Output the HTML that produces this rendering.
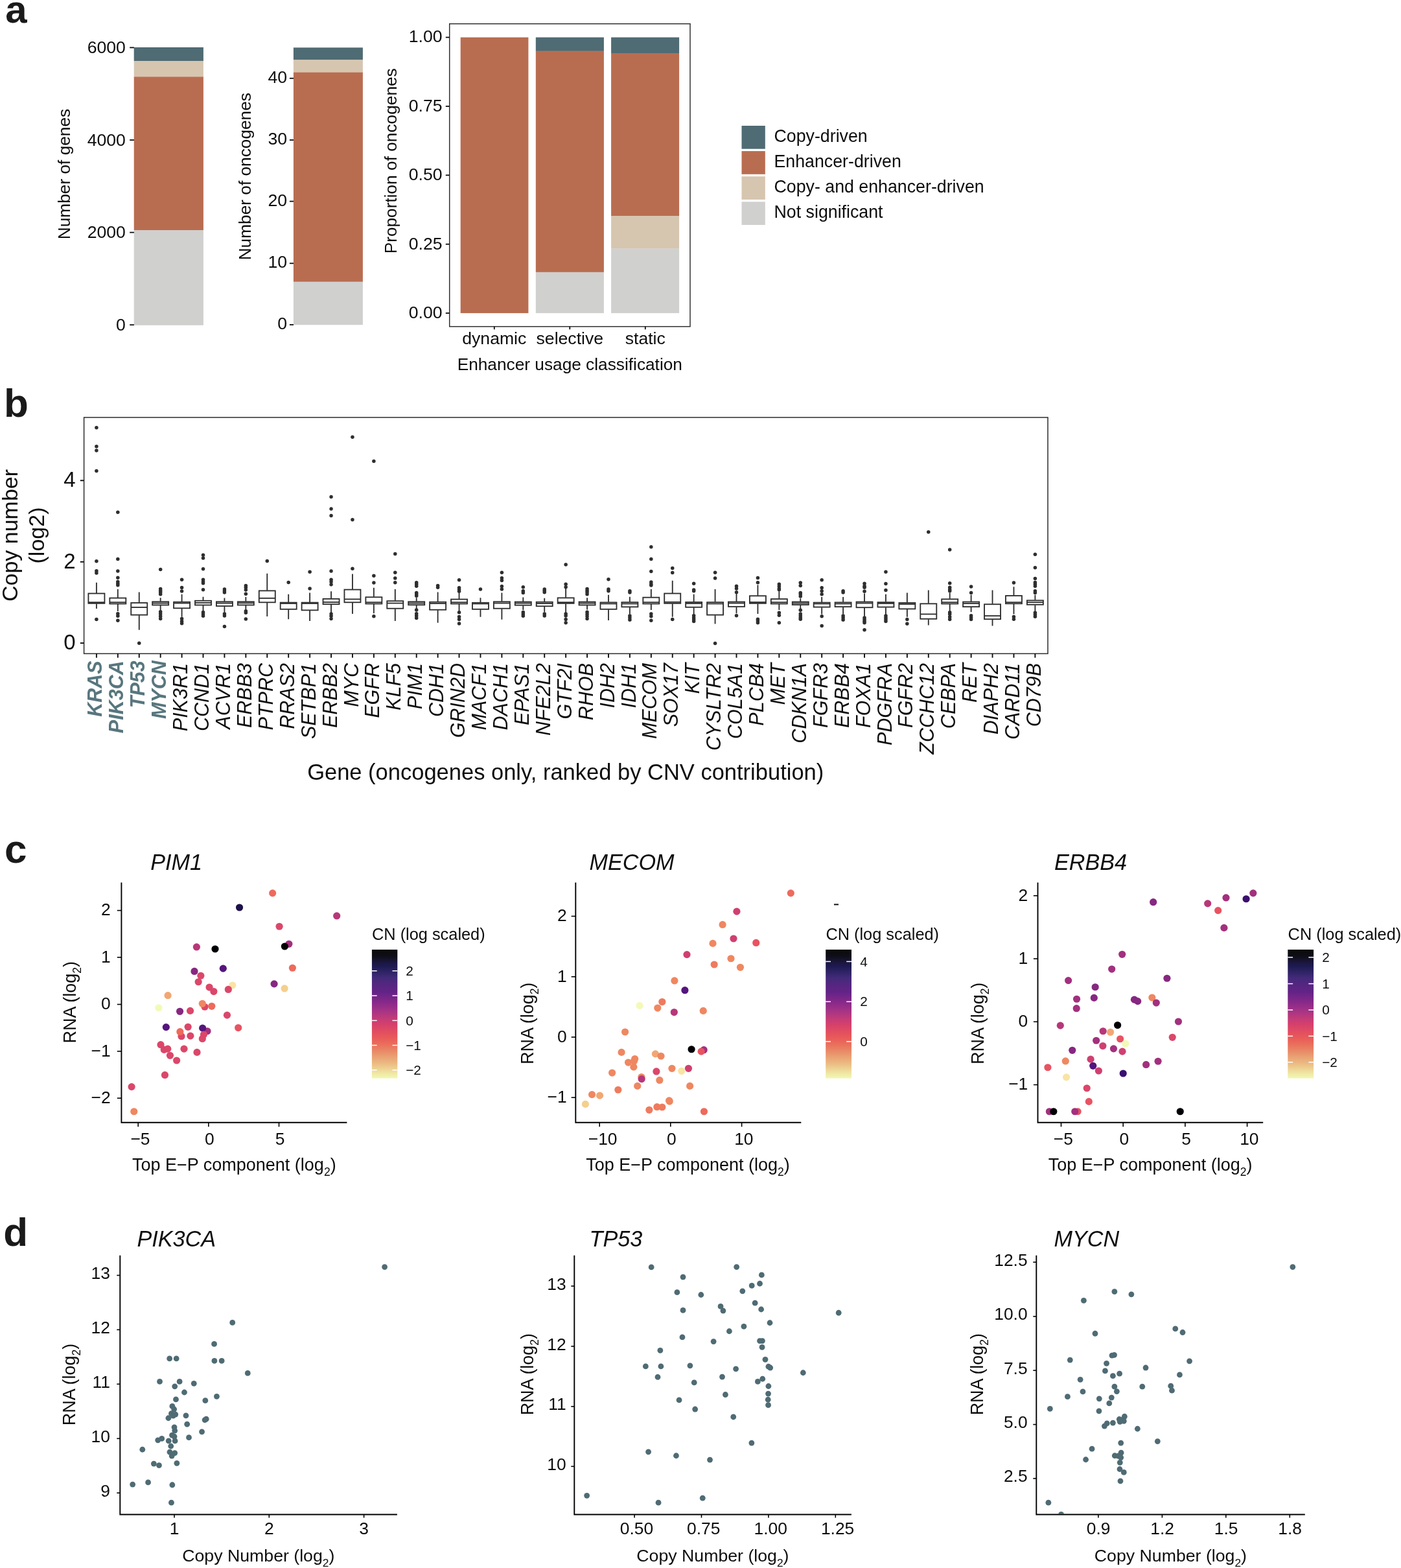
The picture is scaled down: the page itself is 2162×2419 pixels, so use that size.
<!DOCTYPE html>
<html lang="en"><head><meta charset="utf-8"><title>Figure</title>
<style>html,body{margin:0;padding:0;background:#fff}svg{display:block}text{font-family:'Liberation Sans', Arial, Helvetica, sans-serif}</style></head><body>
<svg width="2162" height="2419" viewBox="0 0 2162 2419" role="img" aria-label="Figure: copy number and enhancer contributions to oncogene expression">
<rect width="2162" height="2419" fill="#fff"/>
<g fill="#0d0d0d">
<text x="8.2" y="34.7" font-size="60" font-weight="bold" fill="#1a1a1a">a</text>
<text x="6" y="643" font-size="62" font-weight="bold" fill="#1a1a1a">b</text>
<text x="7" y="1331" font-size="62" font-weight="bold" fill="#1a1a1a">c</text>
<text x="5.2" y="1922" font-size="62" font-weight="bold" fill="#1a1a1a">d</text>
<g id="a1">
<rect x="206.7" y="73" width="107.2" height="21.2" fill="#4f6b74"/>
<rect x="206.7" y="94" width="107.2" height="24.6" fill="#d6c6b0"/>
<rect x="206.7" y="118.4" width="107.2" height="236.8" fill="#b96d50"/>
<rect x="206.7" y="355" width="107.2" height="146.8" fill="#d0d0cf"/>
<line x1="200.2" y1="73.4" x2="206.9" y2="73.4" stroke="#0d0d0d" stroke-width="1.8"/>
<text x="193.8" y="81.92" font-size="26.6" text-anchor="end">6000</text>
<line x1="200.2" y1="216" x2="206.9" y2="216" stroke="#0d0d0d" stroke-width="1.8"/>
<text x="193.8" y="224.52" font-size="26.6" text-anchor="end">4000</text>
<line x1="200.2" y1="358.6" x2="206.9" y2="358.6" stroke="#0d0d0d" stroke-width="1.8"/>
<text x="193.8" y="367.12" font-size="26.6" text-anchor="end">2000</text>
<line x1="200.2" y1="501.2" x2="206.9" y2="501.2" stroke="#0d0d0d" stroke-width="1.8"/>
<text x="193.8" y="509.72" font-size="26.6" text-anchor="end">0</text>
<text x="107.8" y="268.5" font-size="26.25" text-anchor="middle" transform="rotate(-90 107.8 268.5)">Number of genes</text>
</g>
<g id="a2">
<rect x="452.9" y="73.4" width="107" height="19.1" fill="#4f6b74"/>
<rect x="452.9" y="92.3" width="107" height="19.5" fill="#d6c6b0"/>
<rect x="452.9" y="111.6" width="107" height="323.3" fill="#b96d50"/>
<rect x="452.9" y="434.7" width="107" height="66.5" fill="#d0d0cf"/>
<line x1="446.9" y1="120.8" x2="453" y2="120.8" stroke="#0d0d0d" stroke-width="1.8"/>
<text x="443" y="127.82" font-size="26.6" text-anchor="end">40</text>
<line x1="446.9" y1="216" x2="453" y2="216" stroke="#0d0d0d" stroke-width="1.8"/>
<text x="443" y="223.02" font-size="26.6" text-anchor="end">30</text>
<line x1="446.9" y1="310.6" x2="453" y2="310.6" stroke="#0d0d0d" stroke-width="1.8"/>
<text x="443" y="317.62" font-size="26.6" text-anchor="end">20</text>
<line x1="446.9" y1="406.3" x2="453" y2="406.3" stroke="#0d0d0d" stroke-width="1.8"/>
<text x="443" y="413.32" font-size="26.6" text-anchor="end">10</text>
<line x1="446.9" y1="501" x2="453" y2="501" stroke="#0d0d0d" stroke-width="1.8"/>
<text x="443" y="508.02" font-size="26.6" text-anchor="end">0</text>
<text x="387.5" y="272.2" font-size="26.25" text-anchor="middle" transform="rotate(-90 387.5 272.2)">Number of oncogenes</text>
</g>
<g id="a3">
<rect x="693.7" y="36.7" width="371.3" height="467.1" fill="none" stroke="#2b2b2b" stroke-width="1.45"/>
<rect x="710.7" y="57.6" width="104.7" height="425.5" fill="#b96d50"/>
<rect x="826.8" y="57.6" width="105.1" height="21.3" fill="#4f6b74"/>
<rect x="826.8" y="78.7" width="105.1" height="341.3" fill="#b96d50"/>
<rect x="826.8" y="419.8" width="105.1" height="63.3" fill="#d0d0cf"/>
<rect x="943.1" y="57.6" width="105" height="25.2" fill="#4f6b74"/>
<rect x="943.1" y="82.6" width="105" height="250.6" fill="#b96d50"/>
<rect x="943.1" y="333" width="105" height="50.7" fill="#d6c6b0"/>
<rect x="943.1" y="383.5" width="105" height="99.6" fill="#d0d0cf"/>
<line x1="687.8" y1="57.6" x2="693.7" y2="57.6" stroke="#0d0d0d" stroke-width="1.8"/>
<text x="682.6" y="65.42" font-size="26.6" text-anchor="end">1.00</text>
<line x1="687.8" y1="164" x2="693.7" y2="164" stroke="#0d0d0d" stroke-width="1.8"/>
<text x="682.6" y="171.82" font-size="26.6" text-anchor="end">0.75</text>
<line x1="687.8" y1="270.3" x2="693.7" y2="270.3" stroke="#0d0d0d" stroke-width="1.8"/>
<text x="682.6" y="278.12" font-size="26.6" text-anchor="end">0.50</text>
<line x1="687.8" y1="376.7" x2="693.7" y2="376.7" stroke="#0d0d0d" stroke-width="1.8"/>
<text x="682.6" y="384.52" font-size="26.6" text-anchor="end">0.25</text>
<line x1="687.8" y1="483.1" x2="693.7" y2="483.1" stroke="#0d0d0d" stroke-width="1.8"/>
<text x="682.6" y="490.92" font-size="26.6" text-anchor="end">0.00</text>
<line x1="762.8" y1="503.8" x2="762.8" y2="508.2" stroke="#0d0d0d" stroke-width="1.8"/>
<text x="762.8" y="531.2" font-size="26.6" text-anchor="middle">dynamic</text>
<line x1="879.3" y1="503.8" x2="879.3" y2="508.2" stroke="#0d0d0d" stroke-width="1.8"/>
<text x="879.3" y="531.2" font-size="26.6" text-anchor="middle">selective</text>
<line x1="995.8" y1="503.8" x2="995.8" y2="508.2" stroke="#0d0d0d" stroke-width="1.8"/>
<text x="995.8" y="531.2" font-size="26.6" text-anchor="middle">static</text>
<text x="879.3" y="571.3" font-size="26.25" text-anchor="middle">Enhancer usage classification</text>
<text x="612" y="248.3" font-size="26.25" text-anchor="middle" transform="rotate(-90 612 248.3)">Proportion of oncogenes</text>
</g>
<g id="alegend">
<rect x="1144.5" y="194" width="36.3" height="35.7" fill="#4f6b74"/>
<text x="1194.5" y="219.3" font-size="26.75">Copy-driven</text>
<rect x="1144.5" y="233.1" width="36.3" height="35.7" fill="#b96d50"/>
<text x="1194.5" y="258.35" font-size="26.75">Enhancer-driven</text>
<rect x="1144.5" y="272.2" width="36.3" height="35.7" fill="#d6c6b0"/>
<text x="1194.5" y="297.4" font-size="26.75">Copy- and enhancer-driven</text>
<rect x="1144.5" y="311.3" width="36.3" height="35.7" fill="#d0d0cf"/>
<text x="1194.5" y="336.45" font-size="26.75">Not significant</text>
</g>
<g id="b">
<g fill="#2e2e2e">
<circle cx="148.9" cy="865.71" r="2.75"/>
<circle cx="148.9" cy="880.66" r="2.75"/>
<circle cx="148.9" cy="883.96" r="2.75"/>
<circle cx="148.9" cy="955.38" r="2.75"/>
<circle cx="148.9" cy="659.8" r="2.75"/>
<circle cx="148.9" cy="688.8" r="2.75"/>
<circle cx="148.9" cy="694.9" r="2.75"/>
<circle cx="148.9" cy="726.6" r="2.75"/>
<circle cx="181.82" cy="862.42" r="2.75"/>
<circle cx="181.82" cy="881.1" r="2.75"/>
<circle cx="181.82" cy="891.21" r="2.75"/>
<circle cx="181.82" cy="897.58" r="2.75"/>
<circle cx="181.82" cy="900.22" r="2.75"/>
<circle cx="181.82" cy="902.86" r="2.75"/>
<circle cx="181.82" cy="946.81" r="2.75"/>
<circle cx="181.82" cy="950.33" r="2.75"/>
<circle cx="181.82" cy="957.36" r="2.75"/>
<circle cx="181.82" cy="790.3" r="2.75"/>
<circle cx="214.74" cy="992.31" r="2.75"/>
<circle cx="247.66" cy="878.46" r="2.75"/>
<circle cx="247.66" cy="908.57" r="2.75"/>
<circle cx="247.66" cy="911.21" r="2.75"/>
<circle cx="247.66" cy="913.85" r="2.75"/>
<circle cx="247.66" cy="916.7" r="2.75"/>
<circle cx="247.66" cy="943.74" r="2.75"/>
<circle cx="247.66" cy="947.03" r="2.75"/>
<circle cx="247.66" cy="950.77" r="2.75"/>
<circle cx="247.66" cy="954.51" r="2.75"/>
<circle cx="280.58" cy="894.29" r="2.75"/>
<circle cx="280.58" cy="906.59" r="2.75"/>
<circle cx="280.58" cy="912.09" r="2.75"/>
<circle cx="280.58" cy="954.51" r="2.75"/>
<circle cx="280.58" cy="958.46" r="2.75"/>
<circle cx="280.58" cy="961.76" r="2.75"/>
<circle cx="313.5" cy="856.26" r="2.75"/>
<circle cx="313.5" cy="860.88" r="2.75"/>
<circle cx="313.5" cy="877.8" r="2.75"/>
<circle cx="313.5" cy="894.29" r="2.75"/>
<circle cx="313.5" cy="897.58" r="2.75"/>
<circle cx="313.5" cy="899.78" r="2.75"/>
<circle cx="313.5" cy="909.67" r="2.75"/>
<circle cx="313.5" cy="944.4" r="2.75"/>
<circle cx="313.5" cy="947.47" r="2.75"/>
<circle cx="313.5" cy="950.33" r="2.75"/>
<circle cx="346.42" cy="909.01" r="2.75"/>
<circle cx="346.42" cy="911.65" r="2.75"/>
<circle cx="346.42" cy="914.07" r="2.75"/>
<circle cx="346.42" cy="947.03" r="2.75"/>
<circle cx="346.42" cy="950.11" r="2.75"/>
<circle cx="346.42" cy="966.59" r="2.75"/>
<circle cx="379.34" cy="903.52" r="2.75"/>
<circle cx="379.34" cy="906.37" r="2.75"/>
<circle cx="379.34" cy="910.11" r="2.75"/>
<circle cx="379.34" cy="916.26" r="2.75"/>
<circle cx="379.34" cy="942.64" r="2.75"/>
<circle cx="379.34" cy="945.27" r="2.75"/>
<circle cx="379.34" cy="954.95" r="2.75"/>
<circle cx="412.26" cy="865.49" r="2.75"/>
<circle cx="445.18" cy="898.46" r="2.75"/>
<circle cx="478.1" cy="882.2" r="2.75"/>
<circle cx="478.1" cy="907.91" r="2.75"/>
<circle cx="511.02" cy="881.1" r="2.75"/>
<circle cx="511.02" cy="894.29" r="2.75"/>
<circle cx="511.02" cy="897.58" r="2.75"/>
<circle cx="511.02" cy="901.76" r="2.75"/>
<circle cx="511.02" cy="947.03" r="2.75"/>
<circle cx="511.02" cy="950.33" r="2.75"/>
<circle cx="511.02" cy="954.51" r="2.75"/>
<circle cx="511.02" cy="766.6" r="2.75"/>
<circle cx="511.02" cy="785.1" r="2.75"/>
<circle cx="511.02" cy="795.6" r="2.75"/>
<circle cx="543.94" cy="877.36" r="2.75"/>
<circle cx="543.94" cy="674.3" r="2.75"/>
<circle cx="543.94" cy="801.8" r="2.75"/>
<circle cx="576.86" cy="888.13" r="2.75"/>
<circle cx="576.86" cy="899.12" r="2.75"/>
<circle cx="576.86" cy="950.77" r="2.75"/>
<circle cx="576.86" cy="711.6" r="2.75"/>
<circle cx="609.78" cy="854.51" r="2.75"/>
<circle cx="609.78" cy="883.3" r="2.75"/>
<circle cx="609.78" cy="892.09" r="2.75"/>
<circle cx="609.78" cy="898.68" r="2.75"/>
<circle cx="642.7" cy="898.68" r="2.75"/>
<circle cx="642.7" cy="901.32" r="2.75"/>
<circle cx="642.7" cy="904.18" r="2.75"/>
<circle cx="642.7" cy="914.51" r="2.75"/>
<circle cx="642.7" cy="916.7" r="2.75"/>
<circle cx="642.7" cy="919.34" r="2.75"/>
<circle cx="642.7" cy="940.88" r="2.75"/>
<circle cx="642.7" cy="946.81" r="2.75"/>
<circle cx="642.7" cy="950.11" r="2.75"/>
<circle cx="642.7" cy="953.41" r="2.75"/>
<circle cx="675.62" cy="903.52" r="2.75"/>
<circle cx="675.62" cy="906.37" r="2.75"/>
<circle cx="708.54" cy="894.73" r="2.75"/>
<circle cx="708.54" cy="906.81" r="2.75"/>
<circle cx="708.54" cy="909.45" r="2.75"/>
<circle cx="708.54" cy="912.31" r="2.75"/>
<circle cx="708.54" cy="944.84" r="2.75"/>
<circle cx="708.54" cy="951.43" r="2.75"/>
<circle cx="708.54" cy="955.6" r="2.75"/>
<circle cx="708.54" cy="961.98" r="2.75"/>
<circle cx="741.46" cy="909.01" r="2.75"/>
<circle cx="774.38" cy="883.3" r="2.75"/>
<circle cx="774.38" cy="891.65" r="2.75"/>
<circle cx="774.38" cy="895.38" r="2.75"/>
<circle cx="774.38" cy="904.62" r="2.75"/>
<circle cx="774.38" cy="909.01" r="2.75"/>
<circle cx="807.3" cy="905.71" r="2.75"/>
<circle cx="807.3" cy="911.65" r="2.75"/>
<circle cx="807.3" cy="914.51" r="2.75"/>
<circle cx="807.3" cy="944.62" r="2.75"/>
<circle cx="807.3" cy="947.47" r="2.75"/>
<circle cx="807.3" cy="950.33" r="2.75"/>
<circle cx="840.22" cy="909.01" r="2.75"/>
<circle cx="840.22" cy="911.21" r="2.75"/>
<circle cx="840.22" cy="913.85" r="2.75"/>
<circle cx="840.22" cy="947.03" r="2.75"/>
<circle cx="840.22" cy="950.11" r="2.75"/>
<circle cx="873.14" cy="870.99" r="2.75"/>
<circle cx="873.14" cy="901.32" r="2.75"/>
<circle cx="873.14" cy="905.71" r="2.75"/>
<circle cx="873.14" cy="947.03" r="2.75"/>
<circle cx="873.14" cy="950.11" r="2.75"/>
<circle cx="873.14" cy="955.6" r="2.75"/>
<circle cx="873.14" cy="960.66" r="2.75"/>
<circle cx="906.06" cy="908.57" r="2.75"/>
<circle cx="906.06" cy="911.21" r="2.75"/>
<circle cx="906.06" cy="913.85" r="2.75"/>
<circle cx="906.06" cy="916.7" r="2.75"/>
<circle cx="906.06" cy="944.18" r="2.75"/>
<circle cx="906.06" cy="947.47" r="2.75"/>
<circle cx="906.06" cy="950.77" r="2.75"/>
<circle cx="906.06" cy="954.51" r="2.75"/>
<circle cx="938.98" cy="893.85" r="2.75"/>
<circle cx="938.98" cy="909.01" r="2.75"/>
<circle cx="938.98" cy="911.65" r="2.75"/>
<circle cx="971.9" cy="911.65" r="2.75"/>
<circle cx="971.9" cy="914.07" r="2.75"/>
<circle cx="971.9" cy="950.11" r="2.75"/>
<circle cx="971.9" cy="952.97" r="2.75"/>
<circle cx="971.9" cy="956.26" r="2.75"/>
<circle cx="1004.82" cy="843.74" r="2.75"/>
<circle cx="1004.82" cy="862.42" r="2.75"/>
<circle cx="1004.82" cy="881.54" r="2.75"/>
<circle cx="1004.82" cy="898.02" r="2.75"/>
<circle cx="1004.82" cy="900.88" r="2.75"/>
<circle cx="1004.82" cy="903.08" r="2.75"/>
<circle cx="1004.82" cy="947.03" r="2.75"/>
<circle cx="1004.82" cy="950.77" r="2.75"/>
<circle cx="1004.82" cy="957.36" r="2.75"/>
<circle cx="1037.74" cy="876.48" r="2.75"/>
<circle cx="1037.74" cy="883.52" r="2.75"/>
<circle cx="1037.74" cy="955.38" r="2.75"/>
<circle cx="1070.66" cy="900.22" r="2.75"/>
<circle cx="1070.66" cy="910.11" r="2.75"/>
<circle cx="1070.66" cy="911.87" r="2.75"/>
<circle cx="1070.66" cy="949.67" r="2.75"/>
<circle cx="1070.66" cy="952.97" r="2.75"/>
<circle cx="1070.66" cy="955.82" r="2.75"/>
<circle cx="1070.66" cy="958.46" r="2.75"/>
<circle cx="1103.58" cy="883.3" r="2.75"/>
<circle cx="1103.58" cy="892.09" r="2.75"/>
<circle cx="1103.58" cy="992.53" r="2.75"/>
<circle cx="1136.5" cy="904.18" r="2.75"/>
<circle cx="1136.5" cy="907.91" r="2.75"/>
<circle cx="1136.5" cy="913.85" r="2.75"/>
<circle cx="1136.5" cy="949.67" r="2.75"/>
<circle cx="1169.42" cy="891.43" r="2.75"/>
<circle cx="1169.42" cy="898.68" r="2.75"/>
<circle cx="1169.42" cy="955.16" r="2.75"/>
<circle cx="1169.42" cy="957.8" r="2.75"/>
<circle cx="1169.42" cy="960.66" r="2.75"/>
<circle cx="1202.34" cy="901.32" r="2.75"/>
<circle cx="1202.34" cy="904.62" r="2.75"/>
<circle cx="1202.34" cy="907.91" r="2.75"/>
<circle cx="1202.34" cy="909.67" r="2.75"/>
<circle cx="1202.34" cy="945.27" r="2.75"/>
<circle cx="1202.34" cy="949.23" r="2.75"/>
<circle cx="1202.34" cy="960.66" r="2.75"/>
<circle cx="1235.26" cy="899.12" r="2.75"/>
<circle cx="1235.26" cy="903.52" r="2.75"/>
<circle cx="1235.26" cy="914.51" r="2.75"/>
<circle cx="1235.26" cy="916.7" r="2.75"/>
<circle cx="1235.26" cy="920" r="2.75"/>
<circle cx="1235.26" cy="941.32" r="2.75"/>
<circle cx="1235.26" cy="947.03" r="2.75"/>
<circle cx="1235.26" cy="950.11" r="2.75"/>
<circle cx="1235.26" cy="952.97" r="2.75"/>
<circle cx="1235.26" cy="955.16" r="2.75"/>
<circle cx="1268.18" cy="894.73" r="2.75"/>
<circle cx="1268.18" cy="906.81" r="2.75"/>
<circle cx="1268.18" cy="911.65" r="2.75"/>
<circle cx="1268.18" cy="916.7" r="2.75"/>
<circle cx="1268.18" cy="950.77" r="2.75"/>
<circle cx="1268.18" cy="965.49" r="2.75"/>
<circle cx="1301.1" cy="911.65" r="2.75"/>
<circle cx="1301.1" cy="914.07" r="2.75"/>
<circle cx="1301.1" cy="950.11" r="2.75"/>
<circle cx="1301.1" cy="952.97" r="2.75"/>
<circle cx="1301.1" cy="956.26" r="2.75"/>
<circle cx="1334.02" cy="900.22" r="2.75"/>
<circle cx="1334.02" cy="904.18" r="2.75"/>
<circle cx="1334.02" cy="906.37" r="2.75"/>
<circle cx="1334.02" cy="912.31" r="2.75"/>
<circle cx="1334.02" cy="952.97" r="2.75"/>
<circle cx="1334.02" cy="955.82" r="2.75"/>
<circle cx="1334.02" cy="958.46" r="2.75"/>
<circle cx="1334.02" cy="960.66" r="2.75"/>
<circle cx="1334.02" cy="971.65" r="2.75"/>
<circle cx="1366.94" cy="882.2" r="2.75"/>
<circle cx="1366.94" cy="900.44" r="2.75"/>
<circle cx="1366.94" cy="910.55" r="2.75"/>
<circle cx="1366.94" cy="950.11" r="2.75"/>
<circle cx="1366.94" cy="952.97" r="2.75"/>
<circle cx="1366.94" cy="955.82" r="2.75"/>
<circle cx="1366.94" cy="958.46" r="2.75"/>
<circle cx="1399.86" cy="955.6" r="2.75"/>
<circle cx="1399.86" cy="962.2" r="2.75"/>
<circle cx="1432.78" cy="820.7" r="2.75"/>
<circle cx="1465.7" cy="847.91" r="2.75"/>
<circle cx="1465.7" cy="899.78" r="2.75"/>
<circle cx="1465.7" cy="906.37" r="2.75"/>
<circle cx="1465.7" cy="909.45" r="2.75"/>
<circle cx="1465.7" cy="911.87" r="2.75"/>
<circle cx="1465.7" cy="944.84" r="2.75"/>
<circle cx="1465.7" cy="947.47" r="2.75"/>
<circle cx="1465.7" cy="951.87" r="2.75"/>
<circle cx="1465.7" cy="955.6" r="2.75"/>
<circle cx="1498.62" cy="905.05" r="2.75"/>
<circle cx="1498.62" cy="914.51" r="2.75"/>
<circle cx="1498.62" cy="949.67" r="2.75"/>
<circle cx="1498.62" cy="952.53" r="2.75"/>
<circle cx="1498.62" cy="955.6" r="2.75"/>
<circle cx="1564.46" cy="899.12" r="2.75"/>
<circle cx="1564.46" cy="951.43" r="2.75"/>
<circle cx="1564.46" cy="955.16" r="2.75"/>
<circle cx="1597.38" cy="855.16" r="2.75"/>
<circle cx="1597.38" cy="875.82" r="2.75"/>
<circle cx="1597.38" cy="892.53" r="2.75"/>
<circle cx="1597.38" cy="898.46" r="2.75"/>
<circle cx="1597.38" cy="901.32" r="2.75"/>
<circle cx="1597.38" cy="904.18" r="2.75"/>
<circle cx="1597.38" cy="911.87" r="2.75"/>
<circle cx="1597.38" cy="914.51" r="2.75"/>
<circle cx="1597.38" cy="945.27" r="2.75"/>
<circle cx="1597.38" cy="948.13" r="2.75"/>
<circle cx="1597.38" cy="951.21" r="2.75"/>
</g>
<g stroke="#2e2e2e" stroke-width="1.85" fill="#fff">
<path d="M148.9 898.68V914.95M148.9 931.43V939.12"/>
<rect x="136.4" y="915.55" width="25" height="15.28"/>
<path d="M136.4 929.23H161.4"/>
<path d="M181.82 909.01V921.98M181.82 932.09V943.08"/>
<rect x="169.32" y="922.58" width="25" height="8.91"/>
<path d="M169.32 929.23H194.32"/>
<path d="M214.74 913.41V929.45M214.74 949.23V971.65"/>
<rect x="202.24" y="930.05" width="25" height="18.58"/>
<path d="M202.24 936.92H227.24"/>
<path d="M247.66 922.2V927.69M247.66 934.07V941.32"/>
<rect x="235.16" y="928.29" width="25" height="5.17"/>
<path d="M235.16 930.55H260.16"/>
<path d="M280.58 916.7V928.13M280.58 938.9V951.87"/>
<rect x="268.08" y="928.73" width="25" height="9.57"/>
<path d="M268.08 930.55H293.08"/>
<path d="M313.5 920.66V926.15M313.5 934.07V941.98"/>
<rect x="301" y="926.75" width="25" height="6.71"/>
<path d="M301 929.89H326"/>
<path d="M346.42 922.42V927.69M346.42 935.6V944.84"/>
<rect x="333.92" y="928.29" width="25" height="6.71"/>
<path d="M333.92 930.55H358.92"/>
<path d="M379.34 921.1V927.69M379.34 934.07V940.44"/>
<rect x="366.84" y="928.29" width="25" height="5.17"/>
<path d="M366.84 930.33H391.84"/>
<path d="M412.26 884.84V910.77M412.26 929.89V950.99"/>
<rect x="399.76" y="911.37" width="25" height="17.92"/>
<path d="M399.76 922.86H424.76"/>
<path d="M445.18 916.7V929.01M445.18 940.44V955.16"/>
<rect x="432.68" y="929.61" width="25" height="10.23"/>
<path d="M432.68 930.99H457.68"/>
<path d="M478.1 914.51V929.01M478.1 941.98V958.02"/>
<rect x="465.6" y="929.61" width="25" height="11.77"/>
<path d="M465.6 930.99H490.6"/>
<path d="M511.02 912.31V923.3M511.02 932.75V945.71"/>
<rect x="498.52" y="923.9" width="25" height="8.25"/>
<path d="M498.52 929.01H523.52"/>
<path d="M543.94 885.49V909.01M543.94 929.89V947.03"/>
<rect x="531.44" y="909.61" width="25" height="19.68"/>
<path d="M531.44 924.4H556.44"/>
<path d="M576.86 906.81V920.66M576.86 932.09V946.37"/>
<rect x="564.36" y="921.26" width="25" height="10.23"/>
<path d="M564.36 929.23H589.36"/>
<path d="M609.78 909.01V926.59M609.78 939.34V958.02"/>
<rect x="597.28" y="927.19" width="25" height="11.55"/>
<path d="M597.28 930.55H622.28"/>
<path d="M642.7 922.2V927.69M642.7 933.85V940.88"/>
<rect x="630.2" y="928.29" width="25" height="4.95"/>
<path d="M630.2 930.55H655.2"/>
<path d="M675.62 913.41V928.13M675.62 941.32V960.66"/>
<rect x="663.12" y="928.73" width="25" height="11.99"/>
<path d="M663.12 930.99H688.12"/>
<path d="M708.54 914.51V923.96M708.54 932.09V943.08"/>
<rect x="696.04" y="924.56" width="25" height="6.93"/>
<path d="M696.04 929.23H721.04"/>
<path d="M741.46 922.2V929.23M741.46 940.44V951.87"/>
<rect x="728.96" y="929.83" width="25" height="10.01"/>
<path d="M728.96 931.43H753.96"/>
<path d="M774.38 914.51V927.69M774.38 939.34V955.82"/>
<rect x="761.88" y="928.29" width="25" height="10.45"/>
<path d="M761.88 930.55H786.88"/>
<path d="M807.3 921.54V927.91M807.3 934.29V940.88"/>
<rect x="794.8" y="928.51" width="25" height="5.17"/>
<path d="M794.8 930.55H819.8"/>
<path d="M840.22 922.86V928.13M840.22 935.82V944.18"/>
<rect x="827.72" y="928.73" width="25" height="6.49"/>
<path d="M827.72 930.99H852.72"/>
<path d="M873.14 907.91V921.76M873.14 931.43V945.27"/>
<rect x="860.64" y="922.36" width="25" height="8.47"/>
<path d="M860.64 929.23H885.64"/>
<path d="M906.06 922.2V927.91M906.06 934.07V940.44"/>
<rect x="893.56" y="928.51" width="25" height="4.95"/>
<path d="M893.56 930.55H918.56"/>
<path d="M938.98 917.8V928.79M938.98 940.44V956.92"/>
<rect x="926.48" y="929.39" width="25" height="10.45"/>
<path d="M926.48 931.43H951.48"/>
<path d="M971.9 920.66V928.57M971.9 936.92V947.47"/>
<rect x="959.4" y="929.17" width="25" height="7.15"/>
<path d="M959.4 931.43H984.4"/>
<path d="M1004.82 909.01V921.1M1004.82 932.09V940.88"/>
<rect x="992.32" y="921.7" width="25" height="9.79"/>
<path d="M992.32 929.23H1017.32"/>
<path d="M1037.74 895.82V914.95M1037.74 931.43V951.87"/>
<rect x="1025.24" y="915.55" width="25" height="15.28"/>
<path d="M1025.24 928.79H1050.24"/>
<path d="M1070.66 916.7V928.35M1070.66 937.36V947.47"/>
<rect x="1058.16" y="928.95" width="25" height="7.81"/>
<path d="M1058.16 930.99H1083.16"/>
<path d="M1103.58 909.01V928.57M1103.58 949.23V962.42"/>
<rect x="1091.08" y="929.17" width="25" height="19.46"/>
<path d="M1091.08 931.43H1116.08"/>
<path d="M1136.5 915.6V927.91M1136.5 936.48V946.37"/>
<rect x="1124" y="928.51" width="25" height="7.37"/>
<path d="M1124 930.55H1149"/>
<path d="M1169.42 902.42V918.68M1169.42 931.43V947.03"/>
<rect x="1156.92" y="919.28" width="25" height="11.55"/>
<path d="M1156.92 929.01H1181.92"/>
<path d="M1202.34 912.31V923.52M1202.34 932.09V940.88"/>
<rect x="1189.84" y="924.12" width="25" height="7.37"/>
<path d="M1189.84 929.23H1214.84"/>
<path d="M1235.26 923.3V927.91M1235.26 933.63V939.78"/>
<rect x="1222.76" y="928.51" width="25" height="4.51"/>
<path d="M1222.76 930.55H1247.76"/>
<path d="M1268.18 921.1V929.01M1268.18 937.14V947.47"/>
<rect x="1255.68" y="929.61" width="25" height="6.93"/>
<path d="M1255.68 931.43H1280.68"/>
<path d="M1301.1 921.1V928.79M1301.1 936.7V947.47"/>
<rect x="1288.6" y="929.39" width="25" height="6.71"/>
<path d="M1288.6 931.43H1313.6"/>
<path d="M1334.02 915.6V927.91M1334.02 937.8V950.77"/>
<rect x="1321.52" y="928.51" width="25" height="8.69"/>
<path d="M1321.52 930.55H1346.52"/>
<path d="M1366.94 916.7V928.57M1366.94 937.14V949.67"/>
<rect x="1354.44" y="929.17" width="25" height="7.37"/>
<path d="M1354.44 930.99H1379.44"/>
<path d="M1399.86 914.51V929.45M1399.86 940V951.87"/>
<rect x="1387.36" y="930.05" width="25" height="9.35"/>
<path d="M1387.36 932.09H1412.36"/>
<path d="M1432.78 910.55V930.77M1432.78 955.38V964.62"/>
<rect x="1420.28" y="931.37" width="25" height="23.42"/>
<path d="M1420.28 947.47H1445.28"/>
<path d="M1465.7 914.51V923.74M1465.7 932.09V943.08"/>
<rect x="1453.2" y="924.34" width="25" height="7.15"/>
<path d="M1453.2 929.23H1478.2"/>
<path d="M1498.62 917.8V927.91M1498.62 936.7V944.18"/>
<rect x="1486.12" y="928.51" width="25" height="7.59"/>
<path d="M1486.12 930.99H1511.12"/>
<path d="M1531.54 910.55V931.65M1531.54 955.82V965.49"/>
<rect x="1519.04" y="932.25" width="25" height="22.98"/>
<path d="M1519.04 950.11H1544.04"/>
<path d="M1564.46 905.27V918.46M1564.46 931.87V947.47"/>
<rect x="1551.96" y="919.06" width="25" height="12.21"/>
<path d="M1551.96 929.23H1576.96"/>
<path d="M1597.38 917.8V925.71M1597.38 933.41V943.08"/>
<rect x="1584.88" y="926.31" width="25" height="6.49"/>
<path d="M1584.88 929.23H1609.88"/>
</g>
<rect x="129.6" y="644" width="1487.4" height="364.4" fill="none" stroke="#2b2b2b" stroke-width="1.5"/>
<line x1="123.8" y1="741.3" x2="129.6" y2="741.3" stroke="#0d0d0d" stroke-width="1.9"/>
<text x="116.5" y="751.41" font-size="33" text-anchor="end">4</text>
<line x1="123.8" y1="866.8" x2="129.6" y2="866.8" stroke="#0d0d0d" stroke-width="1.9"/>
<text x="116.5" y="876.91" font-size="33" text-anchor="end">2</text>
<line x1="123.8" y1="992.1" x2="129.6" y2="992.1" stroke="#0d0d0d" stroke-width="1.9"/>
<text x="116.5" y="1002.21" font-size="33" text-anchor="end">0</text>
<line x1="148.9" y1="1008.4" x2="148.9" y2="1014.7" stroke="#0d0d0d" stroke-width="1.9"/>
<line x1="181.82" y1="1008.4" x2="181.82" y2="1014.7" stroke="#0d0d0d" stroke-width="1.9"/>
<line x1="214.74" y1="1008.4" x2="214.74" y2="1014.7" stroke="#0d0d0d" stroke-width="1.9"/>
<line x1="247.66" y1="1008.4" x2="247.66" y2="1014.7" stroke="#0d0d0d" stroke-width="1.9"/>
<line x1="280.58" y1="1008.4" x2="280.58" y2="1014.7" stroke="#0d0d0d" stroke-width="1.9"/>
<line x1="313.5" y1="1008.4" x2="313.5" y2="1014.7" stroke="#0d0d0d" stroke-width="1.9"/>
<line x1="346.42" y1="1008.4" x2="346.42" y2="1014.7" stroke="#0d0d0d" stroke-width="1.9"/>
<line x1="379.34" y1="1008.4" x2="379.34" y2="1014.7" stroke="#0d0d0d" stroke-width="1.9"/>
<line x1="412.26" y1="1008.4" x2="412.26" y2="1014.7" stroke="#0d0d0d" stroke-width="1.9"/>
<line x1="445.18" y1="1008.4" x2="445.18" y2="1014.7" stroke="#0d0d0d" stroke-width="1.9"/>
<line x1="478.1" y1="1008.4" x2="478.1" y2="1014.7" stroke="#0d0d0d" stroke-width="1.9"/>
<line x1="511.02" y1="1008.4" x2="511.02" y2="1014.7" stroke="#0d0d0d" stroke-width="1.9"/>
<line x1="543.94" y1="1008.4" x2="543.94" y2="1014.7" stroke="#0d0d0d" stroke-width="1.9"/>
<line x1="576.86" y1="1008.4" x2="576.86" y2="1014.7" stroke="#0d0d0d" stroke-width="1.9"/>
<line x1="609.78" y1="1008.4" x2="609.78" y2="1014.7" stroke="#0d0d0d" stroke-width="1.9"/>
<line x1="642.7" y1="1008.4" x2="642.7" y2="1014.7" stroke="#0d0d0d" stroke-width="1.9"/>
<line x1="675.62" y1="1008.4" x2="675.62" y2="1014.7" stroke="#0d0d0d" stroke-width="1.9"/>
<line x1="708.54" y1="1008.4" x2="708.54" y2="1014.7" stroke="#0d0d0d" stroke-width="1.9"/>
<line x1="741.46" y1="1008.4" x2="741.46" y2="1014.7" stroke="#0d0d0d" stroke-width="1.9"/>
<line x1="774.38" y1="1008.4" x2="774.38" y2="1014.7" stroke="#0d0d0d" stroke-width="1.9"/>
<line x1="807.3" y1="1008.4" x2="807.3" y2="1014.7" stroke="#0d0d0d" stroke-width="1.9"/>
<line x1="840.22" y1="1008.4" x2="840.22" y2="1014.7" stroke="#0d0d0d" stroke-width="1.9"/>
<line x1="873.14" y1="1008.4" x2="873.14" y2="1014.7" stroke="#0d0d0d" stroke-width="1.9"/>
<line x1="906.06" y1="1008.4" x2="906.06" y2="1014.7" stroke="#0d0d0d" stroke-width="1.9"/>
<line x1="938.98" y1="1008.4" x2="938.98" y2="1014.7" stroke="#0d0d0d" stroke-width="1.9"/>
<line x1="971.9" y1="1008.4" x2="971.9" y2="1014.7" stroke="#0d0d0d" stroke-width="1.9"/>
<line x1="1004.82" y1="1008.4" x2="1004.82" y2="1014.7" stroke="#0d0d0d" stroke-width="1.9"/>
<line x1="1037.74" y1="1008.4" x2="1037.74" y2="1014.7" stroke="#0d0d0d" stroke-width="1.9"/>
<line x1="1070.66" y1="1008.4" x2="1070.66" y2="1014.7" stroke="#0d0d0d" stroke-width="1.9"/>
<line x1="1103.58" y1="1008.4" x2="1103.58" y2="1014.7" stroke="#0d0d0d" stroke-width="1.9"/>
<line x1="1136.5" y1="1008.4" x2="1136.5" y2="1014.7" stroke="#0d0d0d" stroke-width="1.9"/>
<line x1="1169.42" y1="1008.4" x2="1169.42" y2="1014.7" stroke="#0d0d0d" stroke-width="1.9"/>
<line x1="1202.34" y1="1008.4" x2="1202.34" y2="1014.7" stroke="#0d0d0d" stroke-width="1.9"/>
<line x1="1235.26" y1="1008.4" x2="1235.26" y2="1014.7" stroke="#0d0d0d" stroke-width="1.9"/>
<line x1="1268.18" y1="1008.4" x2="1268.18" y2="1014.7" stroke="#0d0d0d" stroke-width="1.9"/>
<line x1="1301.1" y1="1008.4" x2="1301.1" y2="1014.7" stroke="#0d0d0d" stroke-width="1.9"/>
<line x1="1334.02" y1="1008.4" x2="1334.02" y2="1014.7" stroke="#0d0d0d" stroke-width="1.9"/>
<line x1="1366.94" y1="1008.4" x2="1366.94" y2="1014.7" stroke="#0d0d0d" stroke-width="1.9"/>
<line x1="1399.86" y1="1008.4" x2="1399.86" y2="1014.7" stroke="#0d0d0d" stroke-width="1.9"/>
<line x1="1432.78" y1="1008.4" x2="1432.78" y2="1014.7" stroke="#0d0d0d" stroke-width="1.9"/>
<line x1="1465.7" y1="1008.4" x2="1465.7" y2="1014.7" stroke="#0d0d0d" stroke-width="1.9"/>
<line x1="1498.62" y1="1008.4" x2="1498.62" y2="1014.7" stroke="#0d0d0d" stroke-width="1.9"/>
<line x1="1531.54" y1="1008.4" x2="1531.54" y2="1014.7" stroke="#0d0d0d" stroke-width="1.9"/>
<line x1="1564.46" y1="1008.4" x2="1564.46" y2="1014.7" stroke="#0d0d0d" stroke-width="1.9"/>
<line x1="1597.38" y1="1008.4" x2="1597.38" y2="1014.7" stroke="#0d0d0d" stroke-width="1.9"/>
<g font-size="30.5" font-style="italic" text-anchor="end">
<text x="157.5" y="1019.3" transform="rotate(-90 157.5 1019.3)" font-weight="bold" fill="#58767e">KRAS</text>
<text x="190.42" y="1019.3" transform="rotate(-90 190.42 1019.3)" font-weight="bold" fill="#58767e">PIK3CA</text>
<text x="223.34" y="1019.3" transform="rotate(-90 223.34 1019.3)" font-weight="bold" fill="#58767e">TP53</text>
<text x="256.26" y="1019.3" transform="rotate(-90 256.26 1019.3)" font-weight="bold" fill="#58767e">MYCN</text>
<text x="289.18" y="1023" transform="rotate(-90 289.18 1023)">PIK3R1</text>
<text x="322.1" y="1023" transform="rotate(-90 322.1 1023)">CCND1</text>
<text x="355.02" y="1023" transform="rotate(-90 355.02 1023)">ACVR1</text>
<text x="387.94" y="1023" transform="rotate(-90 387.94 1023)">ERBB3</text>
<text x="420.86" y="1023" transform="rotate(-90 420.86 1023)">PTPRC</text>
<text x="453.78" y="1023" transform="rotate(-90 453.78 1023)">RRAS2</text>
<text x="486.7" y="1023" transform="rotate(-90 486.7 1023)">SETBP1</text>
<text x="519.62" y="1023" transform="rotate(-90 519.62 1023)">ERBB2</text>
<text x="552.54" y="1023" transform="rotate(-90 552.54 1023)">MYC</text>
<text x="585.46" y="1023" transform="rotate(-90 585.46 1023)">EGFR</text>
<text x="618.38" y="1023" transform="rotate(-90 618.38 1023)">KLF5</text>
<text x="651.3" y="1023" transform="rotate(-90 651.3 1023)">PIM1</text>
<text x="684.22" y="1023" transform="rotate(-90 684.22 1023)">CDH1</text>
<text x="717.14" y="1023" transform="rotate(-90 717.14 1023)">GRIN2D</text>
<text x="750.06" y="1023" transform="rotate(-90 750.06 1023)">MACF1</text>
<text x="782.98" y="1023" transform="rotate(-90 782.98 1023)">DACH1</text>
<text x="815.9" y="1023" transform="rotate(-90 815.9 1023)">EPAS1</text>
<text x="848.82" y="1023" transform="rotate(-90 848.82 1023)">NFE2L2</text>
<text x="881.74" y="1023" transform="rotate(-90 881.74 1023)">GTF2I</text>
<text x="914.66" y="1023" transform="rotate(-90 914.66 1023)">RHOB</text>
<text x="947.58" y="1023" transform="rotate(-90 947.58 1023)">IDH2</text>
<text x="980.5" y="1023" transform="rotate(-90 980.5 1023)">IDH1</text>
<text x="1013.42" y="1023" transform="rotate(-90 1013.42 1023)">MECOM</text>
<text x="1046.34" y="1023" transform="rotate(-90 1046.34 1023)">SOX17</text>
<text x="1079.26" y="1023" transform="rotate(-90 1079.26 1023)">KIT</text>
<text x="1112.18" y="1023" transform="rotate(-90 1112.18 1023)">CYSLTR2</text>
<text x="1145.1" y="1023" transform="rotate(-90 1145.1 1023)">COL5A1</text>
<text x="1178.02" y="1023" transform="rotate(-90 1178.02 1023)">PLCB4</text>
<text x="1210.94" y="1023" transform="rotate(-90 1210.94 1023)">MET</text>
<text x="1243.86" y="1023" transform="rotate(-90 1243.86 1023)">CDKN1A</text>
<text x="1276.78" y="1023" transform="rotate(-90 1276.78 1023)">FGFR3</text>
<text x="1309.7" y="1023" transform="rotate(-90 1309.7 1023)">ERBB4</text>
<text x="1342.62" y="1023" transform="rotate(-90 1342.62 1023)">FOXA1</text>
<text x="1375.54" y="1023" transform="rotate(-90 1375.54 1023)">PDGFRA</text>
<text x="1408.46" y="1023" transform="rotate(-90 1408.46 1023)">FGFR2</text>
<text x="1441.38" y="1023" transform="rotate(-90 1441.38 1023)">ZCCHC12</text>
<text x="1474.3" y="1023" transform="rotate(-90 1474.3 1023)">CEBPA</text>
<text x="1507.22" y="1023" transform="rotate(-90 1507.22 1023)">RET</text>
<text x="1540.14" y="1023" transform="rotate(-90 1540.14 1023)">DIAPH2</text>
<text x="1573.06" y="1023" transform="rotate(-90 1573.06 1023)">CARD11</text>
<text x="1605.98" y="1023" transform="rotate(-90 1605.98 1023)">CD79B</text>
</g>
<text x="872.7" y="1203.2" font-size="34.5" text-anchor="middle">Gene (oncogenes only, ranked by CNV contribution)</text>
<text x="26.5" y="826" font-size="34" text-anchor="middle" transform="rotate(-90 26.5 826)">Copy number</text>
<text x="68" y="826" font-size="34" text-anchor="middle" transform="rotate(-90 68 826)">(log2)</text>
</g>
<defs><linearGradient id="mg" x1="0" y1="0" x2="0" y2="1">
<stop offset="0" stop-color="#0a0a0c"/>
<stop offset="0.05" stop-color="#0e0e16"/>
<stop offset="0.1" stop-color="#1b1640"/>
<stop offset="0.13" stop-color="#1e1a52"/>
<stop offset="0.17" stop-color="#2d2364"/>
<stop offset="0.22" stop-color="#432a7a"/>
<stop offset="0.27" stop-color="#552681"/>
<stop offset="0.33" stop-color="#632386"/>
<stop offset="0.38" stop-color="#7a2689"/>
<stop offset="0.43" stop-color="#912c89"/>
<stop offset="0.48" stop-color="#a73485"/>
<stop offset="0.53" stop-color="#c03b7a"/>
<stop offset="0.58" stop-color="#d5406c"/>
<stop offset="0.63" stop-color="#e04c62"/>
<stop offset="0.68" stop-color="#e8595a"/>
<stop offset="0.73" stop-color="#ea6c5a"/>
<stop offset="0.78" stop-color="#e98565"/>
<stop offset="0.83" stop-color="#e9a072"/>
<stop offset="0.88" stop-color="#ebb880"/>
<stop offset="0.93" stop-color="#eed596"/>
<stop offset="0.97" stop-color="#f0eca8"/>
<stop offset="1" stop-color="#eefab4"/>
</linearGradient></defs>
<g id="c1">
<g>
<circle cx="420.62" cy="1377.85" r="5.6" fill="#ee6a5c"/>
<circle cx="369.54" cy="1400" r="5.6" fill="#1d1147"/>
<circle cx="519.69" cy="1412.92" r="5.6" fill="#b73779"/>
<circle cx="431.08" cy="1429.23" r="5.6" fill="#db476a"/>
<circle cx="303.38" cy="1460.92" r="5.6" fill="#b73779"/>
<circle cx="445.85" cy="1456.31" r="5.6" fill="#a2307e"/>
<circle cx="332" cy="1464" r="5.6" fill="#000004"/>
<circle cx="439.38" cy="1460" r="5.6" fill="#000004"/>
<circle cx="344.31" cy="1494.15" r="5.6" fill="#55157d"/>
<circle cx="300" cy="1498.46" r="5.6" fill="#872781"/>
<circle cx="451.38" cy="1493.23" r="5.6" fill="#ee6a5c"/>
<circle cx="309.85" cy="1505.23" r="5.6" fill="#db476a"/>
<circle cx="306.15" cy="1514.77" r="5.6" fill="#db476a"/>
<circle cx="358.77" cy="1520" r="5.6" fill="#f8e4a4"/>
<circle cx="323.08" cy="1523.08" r="5.6" fill="#db476a"/>
<circle cx="329.85" cy="1529.54" r="5.6" fill="#db476a"/>
<circle cx="352.31" cy="1526.46" r="5.6" fill="#db476a"/>
<circle cx="423.08" cy="1517.85" r="5.6" fill="#872781"/>
<circle cx="439.08" cy="1524.92" r="5.6" fill="#f4cf8f"/>
<circle cx="259.08" cy="1535.69" r="5.6" fill="#f2a772"/>
<circle cx="316" cy="1553.23" r="5.6" fill="#db476a"/>
<circle cx="312.31" cy="1548.31" r="5.6" fill="#ef8761"/>
<circle cx="326.77" cy="1552.31" r="5.6" fill="#ee6a5c"/>
<circle cx="244.92" cy="1554.77" r="5.6" fill="#f3fab8"/>
<circle cx="277.54" cy="1560.31" r="5.6" fill="#872781"/>
<circle cx="293.54" cy="1559.38" r="5.6" fill="#db476a"/>
<circle cx="350.46" cy="1566.15" r="5.6" fill="#db476a"/>
<circle cx="256.31" cy="1584.62" r="5.6" fill="#55157d"/>
<circle cx="290.15" cy="1584.31" r="5.6" fill="#db476a"/>
<circle cx="320" cy="1590.77" r="5.6" fill="#a2307e"/>
<circle cx="312.62" cy="1586.15" r="5.6" fill="#55157d"/>
<circle cx="367.69" cy="1585.54" r="5.6" fill="#e85362"/>
<circle cx="280" cy="1598.77" r="5.6" fill="#db476a"/>
<circle cx="277.85" cy="1591.69" r="5.6" fill="#ee6a5c"/>
<circle cx="293.85" cy="1598.15" r="5.6" fill="#db476a"/>
<circle cx="314.46" cy="1596" r="5.6" fill="#db476a"/>
<circle cx="312.31" cy="1602.46" r="5.6" fill="#db476a"/>
<circle cx="248" cy="1611.69" r="5.6" fill="#db476a"/>
<circle cx="253.23" cy="1619.38" r="5.6" fill="#db476a"/>
<circle cx="258.77" cy="1618.15" r="5.6" fill="#db476a"/>
<circle cx="262.46" cy="1628.31" r="5.6" fill="#db476a"/>
<circle cx="284" cy="1618.15" r="5.6" fill="#db476a"/>
<circle cx="304" cy="1623.38" r="5.6" fill="#db476a"/>
<circle cx="272.62" cy="1636" r="5.6" fill="#db476a"/>
<circle cx="254.46" cy="1658.46" r="5.6" fill="#db476a"/>
<circle cx="203.08" cy="1676.62" r="5.6" fill="#db476a"/>
<circle cx="206.77" cy="1714.77" r="5.6" fill="#ef8761"/>
</g>
<path d="M187.4 1361.5V1731.7H535.4" fill="none" stroke="#000" stroke-width="1.9"/>
<line x1="180.8" y1="1404.6" x2="187.4" y2="1404.6" stroke="#000" stroke-width="1.6"/>
<text x="170.7" y="1412.45" font-size="26.4" text-anchor="end">2</text>
<line x1="180.8" y1="1476.9" x2="187.4" y2="1476.9" stroke="#000" stroke-width="1.6"/>
<text x="170.7" y="1484.75" font-size="26.4" text-anchor="end">1</text>
<line x1="180.8" y1="1549.5" x2="187.4" y2="1549.5" stroke="#000" stroke-width="1.6"/>
<text x="170.7" y="1557.35" font-size="26.4" text-anchor="end">0</text>
<line x1="180.8" y1="1621.8" x2="187.4" y2="1621.8" stroke="#000" stroke-width="1.6"/>
<text x="170.7" y="1629.65" font-size="26.4" text-anchor="end">−1</text>
<line x1="180.8" y1="1694.2" x2="187.4" y2="1694.2" stroke="#000" stroke-width="1.6"/>
<text x="170.7" y="1702.05" font-size="26.4" text-anchor="end">−2</text>
<line x1="213.2" y1="1731.7" x2="213.2" y2="1738.3" stroke="#000" stroke-width="1.6"/>
<text x="216.51" y="1765.9" font-size="26.4" text-anchor="middle">−5</text>
<line x1="321.8" y1="1731.7" x2="321.8" y2="1738.3" stroke="#000" stroke-width="1.6"/>
<text x="323.41" y="1765.9" font-size="26.4" text-anchor="middle">0</text>
<line x1="430.5" y1="1731.7" x2="430.5" y2="1738.3" stroke="#000" stroke-width="1.6"/>
<text x="432.11" y="1765.9" font-size="26.4" text-anchor="middle">5</text>
<text x="232.2" y="1342" font-size="34.2" font-style="italic">PIM1</text>
<text x="361.3" y="1806.2" font-size="27" text-anchor="middle">Top E−P component (log<tspan font-size="17.55" dy="8.1">2</tspan><tspan dy="-8.1">)</tspan></text>
<text x="116.9" y="1546.3" font-size="26.9" text-anchor="middle" transform="rotate(-90 116.9 1546.3)">RNA (log<tspan font-size="17.48" dy="8.07">2</tspan><tspan dy="-8.07">)</tspan></text>
<rect x="573.9" y="1465" width="39.4" height="198.6" fill="url(#mg)"/>
<line x1="573.9" y1="1497.8" x2="581.7" y2="1497.8" stroke="#fff" stroke-width="1.5"/>
<line x1="605.5" y1="1497.8" x2="613.3" y2="1497.8" stroke="#fff" stroke-width="1.5"/>
<text x="626.2" y="1504.95" font-size="20.8">2</text>
<line x1="573.9" y1="1536.1" x2="581.7" y2="1536.1" stroke="#fff" stroke-width="1.5"/>
<line x1="605.5" y1="1536.1" x2="613.3" y2="1536.1" stroke="#fff" stroke-width="1.5"/>
<text x="626.2" y="1543.25" font-size="20.8">1</text>
<line x1="573.9" y1="1574.4" x2="581.7" y2="1574.4" stroke="#fff" stroke-width="1.5"/>
<line x1="605.5" y1="1574.4" x2="613.3" y2="1574.4" stroke="#fff" stroke-width="1.5"/>
<text x="626.2" y="1581.55" font-size="20.8">0</text>
<line x1="573.9" y1="1612.6" x2="581.7" y2="1612.6" stroke="#fff" stroke-width="1.5"/>
<line x1="605.5" y1="1612.6" x2="613.3" y2="1612.6" stroke="#fff" stroke-width="1.5"/>
<text x="626.2" y="1619.75" font-size="20.8">−1</text>
<line x1="573.9" y1="1650.8" x2="581.7" y2="1650.8" stroke="#fff" stroke-width="1.5"/>
<line x1="605.5" y1="1650.8" x2="613.3" y2="1650.8" stroke="#fff" stroke-width="1.5"/>
<text x="626.2" y="1657.95" font-size="20.8">−2</text>
<text x="574" y="1450" font-size="25.35">CN (log scaled)</text>
</g>
<g id="c2">
<g>
<circle cx="1220.31" cy="1377.85" r="5.6" fill="#ee6a5c"/>
<circle cx="1136.92" cy="1406.15" r="5.6" fill="#cf4070"/>
<circle cx="1115.08" cy="1426.46" r="5.6" fill="#ef8761"/>
<circle cx="1132" cy="1448" r="5.6" fill="#cf4070"/>
<circle cx="1100" cy="1455.38" r="5.6" fill="#ef8761"/>
<circle cx="1166.77" cy="1454.46" r="5.6" fill="#e85362"/>
<circle cx="1060" cy="1472.62" r="5.6" fill="#cf4070"/>
<circle cx="1128" cy="1478.77" r="5.6" fill="#ef8761"/>
<circle cx="1102.15" cy="1488" r="5.6" fill="#ee7b5e"/>
<circle cx="1142.46" cy="1492.31" r="5.6" fill="#ef8761"/>
<circle cx="1040.92" cy="1512.92" r="5.6" fill="#ef8761"/>
<circle cx="1056.92" cy="1527.69" r="5.6" fill="#55157d"/>
<circle cx="1021.85" cy="1545.54" r="5.6" fill="#ee7b5e"/>
<circle cx="987.08" cy="1551.38" r="5.6" fill="#f3fab8"/>
<circle cx="1014.77" cy="1555.08" r="5.6" fill="#ef8761"/>
<circle cx="1040.31" cy="1561.54" r="5.6" fill="#b73779"/>
<circle cx="1085.23" cy="1559.38" r="5.6" fill="#ef8761"/>
<circle cx="964.62" cy="1592" r="5.6" fill="#ef8761"/>
<circle cx="1067.08" cy="1618.77" r="5.6" fill="#000004"/>
<circle cx="1086.15" cy="1619.69" r="5.6" fill="#a2307e"/>
<circle cx="1082.15" cy="1622.15" r="5.6" fill="#e85362"/>
<circle cx="959.08" cy="1623.38" r="5.6" fill="#ef8761"/>
<circle cx="1011.38" cy="1625.85" r="5.6" fill="#f2a772"/>
<circle cx="1020" cy="1629.23" r="5.6" fill="#ef8761"/>
<circle cx="979.69" cy="1633.54" r="5.6" fill="#ef8761"/>
<circle cx="978.46" cy="1636.92" r="5.6" fill="#ef8761"/>
<circle cx="969.54" cy="1639.08" r="5.6" fill="#ef8761"/>
<circle cx="977.85" cy="1646.15" r="5.6" fill="#ef8761"/>
<circle cx="1036.92" cy="1648.31" r="5.6" fill="#ef8761"/>
<circle cx="1062.46" cy="1648.31" r="5.6" fill="#cf4070"/>
<circle cx="1051.69" cy="1652.31" r="5.6" fill="#f8e4a4"/>
<circle cx="1012.92" cy="1652.92" r="5.6" fill="#db476a"/>
<circle cx="944.62" cy="1655.08" r="5.6" fill="#ef8761"/>
<circle cx="989.85" cy="1661.54" r="5.6" fill="#ef8761"/>
<circle cx="990.15" cy="1664.62" r="5.6" fill="#b73779"/>
<circle cx="1017.85" cy="1666.46" r="5.6" fill="#ef8761"/>
<circle cx="983.69" cy="1675.38" r="5.6" fill="#ef8761"/>
<circle cx="1064.62" cy="1675.38" r="5.6" fill="#ef8761"/>
<circle cx="953.85" cy="1681.23" r="5.6" fill="#ee7b5e"/>
<circle cx="913.54" cy="1688.62" r="5.6" fill="#ef8761"/>
<circle cx="925.54" cy="1690.15" r="5.6" fill="#f2a772"/>
<circle cx="903.38" cy="1703.38" r="5.6" fill="#f4cf8f"/>
<circle cx="1032.62" cy="1697.85" r="5.6" fill="#ef8761"/>
<circle cx="1033.23" cy="1699.08" r="5.6" fill="#ef8761"/>
<circle cx="1013.85" cy="1707.69" r="5.6" fill="#ee7b5e"/>
<circle cx="1021.85" cy="1708" r="5.6" fill="#ee7b5e"/>
<circle cx="1001.85" cy="1712.31" r="5.6" fill="#ee7b5e"/>
<circle cx="1086.46" cy="1714.77" r="5.6" fill="#ee6a5c"/>
</g>
<path d="M888.3 1361.5V1731.7H1236.3" fill="none" stroke="#000" stroke-width="1.9"/>
<line x1="881.7" y1="1413.5" x2="888.3" y2="1413.5" stroke="#000" stroke-width="1.6"/>
<text x="874.6" y="1421.35" font-size="26.4" text-anchor="end">2</text>
<line x1="881.7" y1="1506.8" x2="888.3" y2="1506.8" stroke="#000" stroke-width="1.6"/>
<text x="874.6" y="1514.65" font-size="26.4" text-anchor="end">1</text>
<line x1="881.7" y1="1600" x2="888.3" y2="1600" stroke="#000" stroke-width="1.6"/>
<text x="874.6" y="1607.85" font-size="26.4" text-anchor="end">0</text>
<line x1="881.7" y1="1693.2" x2="888.3" y2="1693.2" stroke="#000" stroke-width="1.6"/>
<text x="874.6" y="1701.05" font-size="26.4" text-anchor="end">−1</text>
<line x1="925.2" y1="1731.7" x2="925.2" y2="1738.3" stroke="#000" stroke-width="1.6"/>
<text x="930.13" y="1765.9" font-size="26.4" text-anchor="middle">−10</text>
<line x1="1034.8" y1="1731.7" x2="1034.8" y2="1738.3" stroke="#000" stroke-width="1.6"/>
<text x="1036.41" y="1765.9" font-size="26.4" text-anchor="middle">0</text>
<line x1="1144.6" y1="1731.7" x2="1144.6" y2="1738.3" stroke="#000" stroke-width="1.6"/>
<text x="1147.83" y="1765.9" font-size="26.4" text-anchor="middle">10</text>
<text x="909.5" y="1342" font-size="34.2" font-style="italic">MECOM</text>
<text x="1061.5" y="1806.2" font-size="27" text-anchor="middle">Top E−P component (log<tspan font-size="17.55" dy="8.1">2</tspan><tspan dy="-8.1">)</tspan></text>
<text x="823" y="1578.8" font-size="26.9" text-anchor="middle" transform="rotate(-90 823 1578.8)">RNA (log<tspan font-size="17.48" dy="8.07">2</tspan><tspan dy="-8.07">)</tspan></text>
<rect x="1274.2" y="1465" width="39.8" height="198.6" fill="url(#mg)"/>
<line x1="1274.2" y1="1483.4" x2="1282" y2="1483.4" stroke="#fff" stroke-width="1.5"/>
<line x1="1306.2" y1="1483.4" x2="1314" y2="1483.4" stroke="#fff" stroke-width="1.5"/>
<text x="1327.2" y="1490.55" font-size="20.8">4</text>
<line x1="1274.2" y1="1545.3" x2="1282" y2="1545.3" stroke="#fff" stroke-width="1.5"/>
<line x1="1306.2" y1="1545.3" x2="1314" y2="1545.3" stroke="#fff" stroke-width="1.5"/>
<text x="1327.2" y="1552.45" font-size="20.8">2</text>
<line x1="1274.2" y1="1606.8" x2="1282" y2="1606.8" stroke="#fff" stroke-width="1.5"/>
<line x1="1306.2" y1="1606.8" x2="1314" y2="1606.8" stroke="#fff" stroke-width="1.5"/>
<text x="1327.2" y="1613.95" font-size="20.8">0</text>
<text x="1274.4" y="1450" font-size="25.35">CN (log scaled)</text>
<line x1="1287" y1="1395.4" x2="1294" y2="1395.4" stroke="#111" stroke-width="2"/>
</g>
<g id="c3">
<g>
<circle cx="1933.85" cy="1377.85" r="5.6" fill="#a2307e"/>
<circle cx="1923.08" cy="1386.77" r="5.6" fill="#3b0f70"/>
<circle cx="1892" cy="1384.92" r="5.6" fill="#a2307e"/>
<circle cx="1863.69" cy="1393.85" r="5.6" fill="#b73779"/>
<circle cx="1779.69" cy="1391.69" r="5.6" fill="#872781"/>
<circle cx="1879.69" cy="1404.62" r="5.6" fill="#e85362"/>
<circle cx="1888.92" cy="1431.38" r="5.6" fill="#a2307e"/>
<circle cx="1731.69" cy="1472.31" r="5.6" fill="#a2307e"/>
<circle cx="1715.69" cy="1495.08" r="5.6" fill="#a2307e"/>
<circle cx="1800.92" cy="1509.23" r="5.6" fill="#872781"/>
<circle cx="1648.62" cy="1512.62" r="5.6" fill="#a2307e"/>
<circle cx="1690.15" cy="1522.77" r="5.6" fill="#872781"/>
<circle cx="1688.31" cy="1539.38" r="5.6" fill="#872781"/>
<circle cx="1661.54" cy="1541.23" r="5.6" fill="#a2307e"/>
<circle cx="1777.85" cy="1539.08" r="5.6" fill="#ef8761"/>
<circle cx="1750.46" cy="1542.15" r="5.6" fill="#872781"/>
<circle cx="1755.69" cy="1544.62" r="5.6" fill="#872781"/>
<circle cx="1784.31" cy="1547.08" r="5.6" fill="#a2307e"/>
<circle cx="1661.23" cy="1555.69" r="5.6" fill="#a2307e"/>
<circle cx="1818.46" cy="1576" r="5.6" fill="#a2307e"/>
<circle cx="1636.31" cy="1582.15" r="5.6" fill="#b73779"/>
<circle cx="1724.62" cy="1581.54" r="5.6" fill="#000004"/>
<circle cx="1702.15" cy="1590.77" r="5.6" fill="#b73779"/>
<circle cx="1713.54" cy="1592.31" r="5.6" fill="#f2a772"/>
<circle cx="1728.62" cy="1602.77" r="5.6" fill="#e85362"/>
<circle cx="1809.23" cy="1600.31" r="5.6" fill="#db476a"/>
<circle cx="1691.69" cy="1605.23" r="5.6" fill="#a2307e"/>
<circle cx="1736.92" cy="1610.15" r="5.6" fill="#f3fab8"/>
<circle cx="1701.85" cy="1613.54" r="5.6" fill="#cf4070"/>
<circle cx="1718.46" cy="1617.85" r="5.6" fill="#a2307e"/>
<circle cx="1732" cy="1622.15" r="5.6" fill="#cf4070"/>
<circle cx="1654.77" cy="1620.31" r="5.6" fill="#872781"/>
<circle cx="1683.08" cy="1634.15" r="5.6" fill="#cf4070"/>
<circle cx="1644.31" cy="1636.92" r="5.6" fill="#ef8761"/>
<circle cx="1787.08" cy="1637.23" r="5.6" fill="#a2307e"/>
<circle cx="1768.62" cy="1642.46" r="5.6" fill="#a2307e"/>
<circle cx="1686.77" cy="1644.31" r="5.6" fill="#55157d"/>
<circle cx="1616.92" cy="1646.77" r="5.6" fill="#e85362"/>
<circle cx="1695.38" cy="1652" r="5.6" fill="#cf4070"/>
<circle cx="1733.23" cy="1656" r="5.6" fill="#3b0f70"/>
<circle cx="1645.54" cy="1661.85" r="5.6" fill="#f8e4a4"/>
<circle cx="1677.23" cy="1678.77" r="5.6" fill="#db476a"/>
<circle cx="1680.31" cy="1699.38" r="5.6" fill="#e85362"/>
<circle cx="1619.38" cy="1714.77" r="5.6" fill="#a2307e"/>
<circle cx="1625.85" cy="1714.77" r="5.6" fill="#000004"/>
<circle cx="1663.08" cy="1714.77" r="5.6" fill="#e85362"/>
<circle cx="1658.77" cy="1714.77" r="5.6" fill="#a2307e"/>
<circle cx="1821.23" cy="1714.77" r="5.6" fill="#000004"/>
</g>
<path d="M1601.5 1361.5V1731.7H1949.2" fill="none" stroke="#000" stroke-width="1.9"/>
<line x1="1594.9" y1="1381.8" x2="1601.5" y2="1381.8" stroke="#000" stroke-width="1.6"/>
<text x="1586.3" y="1389.65" font-size="26.4" text-anchor="end">2</text>
<line x1="1594.9" y1="1479.1" x2="1601.5" y2="1479.1" stroke="#000" stroke-width="1.6"/>
<text x="1586.3" y="1486.95" font-size="26.4" text-anchor="end">1</text>
<line x1="1594.9" y1="1576.3" x2="1601.5" y2="1576.3" stroke="#000" stroke-width="1.6"/>
<text x="1586.3" y="1584.15" font-size="26.4" text-anchor="end">0</text>
<line x1="1594.9" y1="1673.5" x2="1601.5" y2="1673.5" stroke="#000" stroke-width="1.6"/>
<text x="1586.3" y="1681.35" font-size="26.4" text-anchor="end">−1</text>
<line x1="1637.5" y1="1731.7" x2="1637.5" y2="1738.3" stroke="#000" stroke-width="1.6"/>
<text x="1640.81" y="1765.9" font-size="26.4" text-anchor="middle">−5</text>
<line x1="1733.2" y1="1731.7" x2="1733.2" y2="1738.3" stroke="#000" stroke-width="1.6"/>
<text x="1734.81" y="1765.9" font-size="26.4" text-anchor="middle">0</text>
<line x1="1828.9" y1="1731.7" x2="1828.9" y2="1738.3" stroke="#000" stroke-width="1.6"/>
<text x="1830.51" y="1765.9" font-size="26.4" text-anchor="middle">5</text>
<line x1="1924.6" y1="1731.7" x2="1924.6" y2="1738.3" stroke="#000" stroke-width="1.6"/>
<text x="1927.83" y="1765.9" font-size="26.4" text-anchor="middle">10</text>
<text x="1627" y="1342" font-size="34.2" font-style="italic">ERBB4</text>
<text x="1775.1" y="1806.2" font-size="27" text-anchor="middle">Top E−P component (log<tspan font-size="17.55" dy="8.1">2</tspan><tspan dy="-8.1">)</tspan></text>
<text x="1517.8" y="1578.8" font-size="26.9" text-anchor="middle" transform="rotate(-90 1517.8 1578.8)">RNA (log<tspan font-size="17.48" dy="8.07">2</tspan><tspan dy="-8.07">)</tspan></text>
<rect x="1987.3" y="1465" width="39.8" height="198.6" fill="url(#mg)"/>
<line x1="1987.3" y1="1476.9" x2="1995.1" y2="1476.9" stroke="#fff" stroke-width="1.5"/>
<line x1="2019.3" y1="1476.9" x2="2027.1" y2="1476.9" stroke="#fff" stroke-width="1.5"/>
<text x="2040.2" y="1484.05" font-size="20.8">2</text>
<line x1="1987.3" y1="1517.6" x2="1995.1" y2="1517.6" stroke="#fff" stroke-width="1.5"/>
<line x1="2019.3" y1="1517.6" x2="2027.1" y2="1517.6" stroke="#fff" stroke-width="1.5"/>
<text x="2040.2" y="1524.75" font-size="20.8">1</text>
<line x1="1987.3" y1="1558.1" x2="1995.1" y2="1558.1" stroke="#fff" stroke-width="1.5"/>
<line x1="2019.3" y1="1558.1" x2="2027.1" y2="1558.1" stroke="#fff" stroke-width="1.5"/>
<text x="2040.2" y="1565.25" font-size="20.8">0</text>
<line x1="1987.3" y1="1598.4" x2="1995.1" y2="1598.4" stroke="#fff" stroke-width="1.5"/>
<line x1="2019.3" y1="1598.4" x2="2027.1" y2="1598.4" stroke="#fff" stroke-width="1.5"/>
<text x="2040.2" y="1605.55" font-size="20.8">−1</text>
<line x1="1987.3" y1="1638.7" x2="1995.1" y2="1638.7" stroke="#fff" stroke-width="1.5"/>
<line x1="2019.3" y1="1638.7" x2="2027.1" y2="1638.7" stroke="#fff" stroke-width="1.5"/>
<text x="2040.2" y="1645.85" font-size="20.8">−2</text>
<text x="1987.6" y="1450" font-size="25.35">CN (log scaled)</text>
</g>
<g id="d1">
<g fill="#4f6b74">
<circle cx="593.58" cy="1954.59" r="4.4"/>
<circle cx="358.68" cy="2040.4" r="4.4"/>
<circle cx="330.55" cy="2073.45" r="4.4"/>
<circle cx="261.63" cy="2095.96" r="4.4"/>
<circle cx="272.18" cy="2095.96" r="4.4"/>
<circle cx="330.9" cy="2099.47" r="4.4"/>
<circle cx="342.15" cy="2099.47" r="4.4"/>
<circle cx="382.24" cy="2118.46" r="4.4"/>
<circle cx="246.51" cy="2131.47" r="4.4"/>
<circle cx="277.1" cy="2131.47" r="4.4"/>
<circle cx="299.25" cy="2134.29" r="4.4"/>
<circle cx="269.71" cy="2138.86" r="4.4"/>
<circle cx="284.48" cy="2148" r="4.4"/>
<circle cx="334.42" cy="2154.33" r="4.4"/>
<circle cx="271.47" cy="2158.9" r="4.4"/>
<circle cx="316.84" cy="2160.66" r="4.4"/>
<circle cx="265.85" cy="2169.45" r="4.4"/>
<circle cx="268.66" cy="2174.02" r="4.4"/>
<circle cx="264.44" cy="2180.7" r="4.4"/>
<circle cx="270.77" cy="2182.11" r="4.4"/>
<circle cx="267.25" cy="2184.22" r="4.4"/>
<circle cx="286.95" cy="2183.87" r="4.4"/>
<circle cx="259.87" cy="2187.74" r="4.4"/>
<circle cx="318.24" cy="2189.14" r="4.4"/>
<circle cx="316.13" cy="2190.55" r="4.4"/>
<circle cx="288.7" cy="2197.23" r="4.4"/>
<circle cx="269.01" cy="2201.8" r="4.4"/>
<circle cx="269.71" cy="2207.08" r="4.4"/>
<circle cx="311.56" cy="2208.84" r="4.4"/>
<circle cx="265.49" cy="2214.11" r="4.4"/>
<circle cx="269.01" cy="2216.22" r="4.4"/>
<circle cx="249.67" cy="2219.38" r="4.4"/>
<circle cx="243.69" cy="2221.85" r="4.4"/>
<circle cx="260.22" cy="2222.9" r="4.4"/>
<circle cx="270.07" cy="2222.9" r="4.4"/>
<circle cx="291.52" cy="2217.63" r="4.4"/>
<circle cx="263.74" cy="2230.99" r="4.4"/>
<circle cx="219.78" cy="2236.26" r="4.4"/>
<circle cx="261.98" cy="2240.13" r="4.4"/>
<circle cx="269.71" cy="2241.54" r="4.4"/>
<circle cx="265.14" cy="2246.11" r="4.4"/>
<circle cx="237.36" cy="2258.07" r="4.4"/>
<circle cx="245.45" cy="2260.53" r="4.4"/>
<circle cx="272.88" cy="2257.36" r="4.4"/>
<circle cx="204.66" cy="2290.07" r="4.4"/>
<circle cx="228.57" cy="2286.9" r="4.4"/>
<circle cx="265.85" cy="2290.77" r="4.4"/>
<circle cx="264.44" cy="2318.2" r="4.4"/>
</g>
<path d="M185.3 1936.7V2336.5H612.9" fill="none" stroke="#000" stroke-width="1.9"/>
<line x1="180.3" y1="1967.5" x2="185.3" y2="1967.5" stroke="#000" stroke-width="1.6"/>
<text x="169.9" y="1973.05" font-size="26.4" text-anchor="end">13</text>
<line x1="180.3" y1="2051.4" x2="185.3" y2="2051.4" stroke="#000" stroke-width="1.6"/>
<text x="169.9" y="2056.95" font-size="26.4" text-anchor="end">12</text>
<line x1="180.3" y1="2135.3" x2="185.3" y2="2135.3" stroke="#000" stroke-width="1.6"/>
<text x="169.9" y="2140.85" font-size="26.4" text-anchor="end">11</text>
<line x1="180.3" y1="2219.3" x2="185.3" y2="2219.3" stroke="#000" stroke-width="1.6"/>
<text x="169.9" y="2224.85" font-size="26.4" text-anchor="end">10</text>
<line x1="180.3" y1="2303.2" x2="185.3" y2="2303.2" stroke="#000" stroke-width="1.6"/>
<text x="169.9" y="2308.75" font-size="26.4" text-anchor="end">9</text>
<line x1="269" y1="2336.5" x2="269" y2="2341.5" stroke="#000" stroke-width="1.6"/>
<text x="269" y="2367.2" font-size="26.4" text-anchor="middle">1</text>
<line x1="415.3" y1="2336.5" x2="415.3" y2="2341.5" stroke="#000" stroke-width="1.6"/>
<text x="415.3" y="2367.2" font-size="26.4" text-anchor="middle">2</text>
<line x1="561.6" y1="2336.5" x2="561.6" y2="2341.5" stroke="#000" stroke-width="1.6"/>
<text x="561.6" y="2367.2" font-size="26.4" text-anchor="middle">3</text>
<text x="211.5" y="1922.6" font-size="34.2" font-style="italic">PIK3CA</text>
<text x="398.8" y="2408.6" font-size="26.7" text-anchor="middle">Copy Number (log<tspan font-size="17.36" dy="8.01">2</tspan><tspan dy="-8.01">)</tspan></text>
<text x="116" y="2136" font-size="26.9" text-anchor="middle" transform="rotate(-90 116 2136)">RNA (log<tspan font-size="17.48" dy="8.07">2</tspan><tspan dy="-8.07">)</tspan></text>
</g>
<g id="d2">
<g fill="#4f6b74">
<circle cx="1005.14" cy="1954.95" r="4.4"/>
<circle cx="1136.66" cy="1954.59" r="4.4"/>
<circle cx="1175.34" cy="1966.9" r="4.4"/>
<circle cx="1054.02" cy="1970.07" r="4.4"/>
<circle cx="1172.53" cy="1980.26" r="4.4"/>
<circle cx="1160.22" cy="1983.43" r="4.4"/>
<circle cx="1145.8" cy="1991.87" r="4.4"/>
<circle cx="1044.88" cy="1993.63" r="4.4"/>
<circle cx="1081.8" cy="1997.49" r="4.4"/>
<circle cx="1165.14" cy="2010.15" r="4.4"/>
<circle cx="1112.04" cy="2015.43" r="4.4"/>
<circle cx="1115.91" cy="2022.11" r="4.4"/>
<circle cx="1174.64" cy="2020" r="4.4"/>
<circle cx="1054.02" cy="2021.41" r="4.4"/>
<circle cx="1294.2" cy="2025.27" r="4.4"/>
<circle cx="1188" cy="2040.75" r="4.4"/>
<circle cx="1147.91" cy="2046.37" r="4.4"/>
<circle cx="1125.41" cy="2053.76" r="4.4"/>
<circle cx="1052.97" cy="2062.9" r="4.4"/>
<circle cx="1101.14" cy="2069.58" r="4.4"/>
<circle cx="1172.53" cy="2068.53" r="4.4"/>
<circle cx="1176.4" cy="2068.53" r="4.4"/>
<circle cx="1176.04" cy="2078.37" r="4.4"/>
<circle cx="1018.86" cy="2083.3" r="4.4"/>
<circle cx="1180.97" cy="2097.36" r="4.4"/>
<circle cx="996.35" cy="2107.91" r="4.4"/>
<circle cx="1019.91" cy="2107.91" r="4.4"/>
<circle cx="1064.92" cy="2106.86" r="4.4"/>
<circle cx="1135.6" cy="2111.78" r="4.4"/>
<circle cx="1185.89" cy="2108.26" r="4.4"/>
<circle cx="1188.7" cy="2110.02" r="4.4"/>
<circle cx="1239.34" cy="2117.76" r="4.4"/>
<circle cx="1014.99" cy="2124.44" r="4.4"/>
<circle cx="1114.51" cy="2124.09" r="4.4"/>
<circle cx="1176.75" cy="2127.25" r="4.4"/>
<circle cx="1169.36" cy="2131.47" r="4.4"/>
<circle cx="1071.25" cy="2132.88" r="4.4"/>
<circle cx="1185.89" cy="2138.51" r="4.4"/>
<circle cx="1119.43" cy="2151.52" r="4.4"/>
<circle cx="1185.54" cy="2150.11" r="4.4"/>
<circle cx="1185.19" cy="2159.25" r="4.4"/>
<circle cx="1048.04" cy="2159.96" r="4.4"/>
<circle cx="1185.54" cy="2167.69" r="4.4"/>
<circle cx="1072.66" cy="2174.02" r="4.4"/>
<circle cx="1131.74" cy="2185.98" r="4.4"/>
<circle cx="1159.87" cy="2226.07" r="4.4"/>
<circle cx="1000.57" cy="2239.78" r="4.4"/>
<circle cx="1043.47" cy="2245.76" r="4.4"/>
<circle cx="1095.52" cy="2252.09" r="4.4"/>
<circle cx="905.63" cy="2307.3" r="4.4"/>
<circle cx="1084.26" cy="2311.16" r="4.4"/>
<circle cx="1016.04" cy="2318.2" r="4.4"/>
</g>
<path d="M886.3 1936.7V2336.5H1313.9" fill="none" stroke="#000" stroke-width="1.9"/>
<line x1="881.3" y1="1984.1" x2="886.3" y2="1984.1" stroke="#000" stroke-width="1.6"/>
<text x="873.6" y="1989.65" font-size="26.4" text-anchor="end">13</text>
<line x1="881.3" y1="2077" x2="886.3" y2="2077" stroke="#000" stroke-width="1.6"/>
<text x="873.6" y="2082.55" font-size="26.4" text-anchor="end">12</text>
<line x1="881.3" y1="2169.8" x2="886.3" y2="2169.8" stroke="#000" stroke-width="1.6"/>
<text x="873.6" y="2175.35" font-size="26.4" text-anchor="end">11</text>
<line x1="881.3" y1="2262.3" x2="886.3" y2="2262.3" stroke="#000" stroke-width="1.6"/>
<text x="873.6" y="2267.85" font-size="26.4" text-anchor="end">10</text>
<line x1="979.1" y1="2336.5" x2="979.1" y2="2341.5" stroke="#000" stroke-width="1.6"/>
<text x="982.4" y="2367.2" font-size="26.4" text-anchor="middle">0.50</text>
<line x1="1082.5" y1="2336.5" x2="1082.5" y2="2341.5" stroke="#000" stroke-width="1.6"/>
<text x="1085.8" y="2367.2" font-size="26.4" text-anchor="middle">0.75</text>
<line x1="1185.9" y1="2336.5" x2="1185.9" y2="2341.5" stroke="#000" stroke-width="1.6"/>
<text x="1189.2" y="2367.2" font-size="26.4" text-anchor="middle">1.00</text>
<line x1="1289.3" y1="2336.5" x2="1289.3" y2="2341.5" stroke="#000" stroke-width="1.6"/>
<text x="1292.6" y="2367.2" font-size="26.4" text-anchor="middle">1.25</text>
<text x="909.5" y="1922.6" font-size="34.2" font-style="italic">TP53</text>
<text x="1099.9" y="2408.6" font-size="26.7" text-anchor="middle">Copy Number (log<tspan font-size="17.36" dy="8.01">2</tspan><tspan dy="-8.01">)</tspan></text>
<text x="822.6" y="2120.2" font-size="26.9" text-anchor="middle" transform="rotate(-90 822.6 2120.2)">RNA (log<tspan font-size="17.48" dy="8.07">2</tspan><tspan dy="-8.07">)</tspan></text>
</g>
<g id="d3">
<clipPath id="cl3"><rect x="1590" y="1930" width="500" height="405.6"/></clipPath><g clip-path="url(#cl3)">
<g fill="#4f6b74">
<circle cx="1994.86" cy="1954.59" r="4.4"/>
<circle cx="1719.87" cy="1992.57" r="4.4"/>
<circle cx="1745.89" cy="1996.79" r="4.4"/>
<circle cx="1672.4" cy="2006.29" r="4.4"/>
<circle cx="1813.76" cy="2049.89" r="4.4"/>
<circle cx="1825.01" cy="2055.52" r="4.4"/>
<circle cx="1689.98" cy="2057.27" r="4.4"/>
<circle cx="1716" cy="2091.03" r="4.4"/>
<circle cx="1719.52" cy="2090.33" r="4.4"/>
<circle cx="1651.3" cy="2098.07" r="4.4"/>
<circle cx="1835.56" cy="2099.82" r="4.4"/>
<circle cx="1707.56" cy="2103.34" r="4.4"/>
<circle cx="1768.04" cy="2110.02" r="4.4"/>
<circle cx="1705.45" cy="2114.95" r="4.4"/>
<circle cx="1820.44" cy="2120.92" r="4.4"/>
<circle cx="1717.41" cy="2122.68" r="4.4"/>
<circle cx="1727.6" cy="2119.16" r="4.4"/>
<circle cx="1667.12" cy="2128.31" r="4.4"/>
<circle cx="1806.73" cy="2138.15" r="4.4"/>
<circle cx="1762.77" cy="2139.21" r="4.4"/>
<circle cx="1719.87" cy="2139.21" r="4.4"/>
<circle cx="1808.48" cy="2145.19" r="4.4"/>
<circle cx="1723.38" cy="2146.59" r="4.4"/>
<circle cx="1670.99" cy="2146.95" r="4.4"/>
<circle cx="1647.43" cy="2154.68" r="4.4"/>
<circle cx="1715.3" cy="2156.09" r="4.4"/>
<circle cx="1696.31" cy="2157.85" r="4.4"/>
<circle cx="1711.78" cy="2164.88" r="4.4"/>
<circle cx="1620.35" cy="2173.32" r="4.4"/>
<circle cx="1695.96" cy="2176.84" r="4.4"/>
<circle cx="1735.34" cy="2185.27" r="4.4"/>
<circle cx="1727.25" cy="2189.49" r="4.4"/>
<circle cx="1730.77" cy="2190.55" r="4.4"/>
<circle cx="1734.29" cy="2192.31" r="4.4"/>
<circle cx="1728.31" cy="2193.36" r="4.4"/>
<circle cx="1708.26" cy="2195.82" r="4.4"/>
<circle cx="1717.41" cy="2195.12" r="4.4"/>
<circle cx="1704.4" cy="2200.04" r="4.4"/>
<circle cx="1755.38" cy="2204.26" r="4.4"/>
<circle cx="1786.33" cy="2223.6" r="4.4"/>
<circle cx="1729.71" cy="2226.07" r="4.4"/>
<circle cx="1685.05" cy="2235.21" r="4.4"/>
<circle cx="1730.07" cy="2241.19" r="4.4"/>
<circle cx="1720.22" cy="2245.76" r="4.4"/>
<circle cx="1725.49" cy="2246.11" r="4.4"/>
<circle cx="1729.71" cy="2248.57" r="4.4"/>
<circle cx="1675.56" cy="2251.74" r="4.4"/>
<circle cx="1728.31" cy="2256.31" r="4.4"/>
<circle cx="1727.96" cy="2266.51" r="4.4"/>
<circle cx="1734.29" cy="2271.43" r="4.4"/>
<circle cx="1729.01" cy="2284.79" r="4.4"/>
<circle cx="1617.89" cy="2318.2" r="4.4"/>
<circle cx="1637.58" cy="2336.48" r="4.4"/>
</g>
</g>
<path d="M1599.3 1936.7V2336.5H2013.8" fill="none" stroke="#000" stroke-width="1.9"/>
<line x1="1594.3" y1="1947.2" x2="1599.3" y2="1947.2" stroke="#000" stroke-width="1.6"/>
<text x="1585.6" y="1952.75" font-size="26.4" text-anchor="end">12.5</text>
<line x1="1594.3" y1="2030.9" x2="1599.3" y2="2030.9" stroke="#000" stroke-width="1.6"/>
<text x="1585.6" y="2036.45" font-size="26.4" text-anchor="end">10.0</text>
<line x1="1594.3" y1="2114.2" x2="1599.3" y2="2114.2" stroke="#000" stroke-width="1.6"/>
<text x="1585.6" y="2119.75" font-size="26.4" text-anchor="end">7.5</text>
<line x1="1594.3" y1="2197.6" x2="1599.3" y2="2197.6" stroke="#000" stroke-width="1.6"/>
<text x="1585.6" y="2203.15" font-size="26.4" text-anchor="end">5.0</text>
<line x1="1594.3" y1="2280.9" x2="1599.3" y2="2280.9" stroke="#000" stroke-width="1.6"/>
<text x="1585.6" y="2286.45" font-size="26.4" text-anchor="end">2.5</text>
<line x1="1694.9" y1="2336.5" x2="1694.9" y2="2341.5" stroke="#000" stroke-width="1.6"/>
<text x="1695.2" y="2367.2" font-size="26.4" text-anchor="middle">0.9</text>
<line x1="1793.4" y1="2336.5" x2="1793.4" y2="2341.5" stroke="#000" stroke-width="1.6"/>
<text x="1793.7" y="2367.2" font-size="26.4" text-anchor="middle">1.2</text>
<line x1="1891.8" y1="2336.5" x2="1891.8" y2="2341.5" stroke="#000" stroke-width="1.6"/>
<text x="1892.1" y="2367.2" font-size="26.4" text-anchor="middle">1.5</text>
<line x1="1990.3" y1="2336.5" x2="1990.3" y2="2341.5" stroke="#000" stroke-width="1.6"/>
<text x="1990.6" y="2367.2" font-size="26.4" text-anchor="middle">1.8</text>
<text x="1626.5" y="1922.6" font-size="34.2" font-style="italic">MYCN</text>
<text x="1806.4" y="2408.6" font-size="26.7" text-anchor="middle">Copy Number (log<tspan font-size="17.36" dy="8.01">2</tspan><tspan dy="-8.01">)</tspan></text>
<text x="1517" y="2120.2" font-size="26.9" text-anchor="middle" transform="rotate(-90 1517 2120.2)">RNA (log<tspan font-size="17.48" dy="8.07">2</tspan><tspan dy="-8.07">)</tspan></text>
</g>
</g></svg></body></html>
